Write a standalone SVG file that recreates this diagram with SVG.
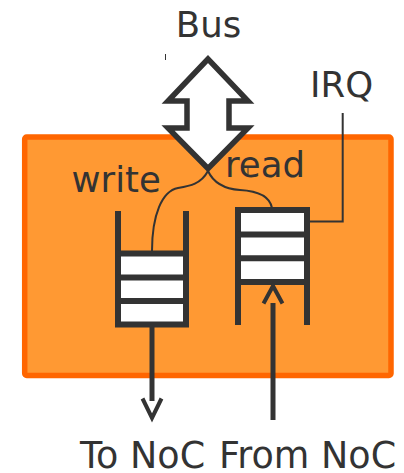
<svg xmlns="http://www.w3.org/2000/svg" width="404" height="473" viewBox="0 0 404 473">
  <style>
    .lbl { font-family: "DejaVu Sans", "Liberation Sans", sans-serif; font-size: 35.5px; fill: #333333; }
    .big { font-size: 36.5px; }
    .frame { fill: #ff9933; stroke: #ff6600; stroke-width: 5.5; }
    .rail { fill: none; stroke: #333333; stroke-width: 6; stroke-linecap: butt; }
    .cell { fill: #ffffff; }
    .wire { fill: none; stroke: #333333; stroke-width: 2; }
    .flow { fill: none; stroke: #333333; stroke-width: 5; }
    .head { fill: none; stroke: #333333; stroke-width: 4; stroke-linejoin: miter; }
  </style>

  <!-- controller block -->
  <g id="controller">
    <rect class="frame" x="24.7" y="137" width="366.3" height="238.5" rx="2"/>
  </g>

  <!-- write FIFO: open at the top -->
  <g id="write-fifo">
    <rect class="cell" x="121" y="256" width="62" height="66"/>
    <path class="rail" d="M118,211 V324.5 H186 V211"/>
    <path class="rail" d="M118,253.5 H186 M118,277.5 H186 M118,301 H186"/>
  </g>

  <!-- read FIFO: open at the bottom -->
  <g id="read-fifo">
    <rect class="cell" x="241" y="213" width="63" height="66"/>
    <path class="rail" d="M238,325 V210 H307 V325"/>
    <path class="rail" d="M238,234.5 H307 M238,258.3 H307 M238,282 H307"/>
  </g>

  <!-- bus port -->
  <g id="bus">
    <path d="M208,59 L168,101 H187 V128 H168 L208,168.5 L248,128 H229 V101 H248 Z" fill="#ffffff" stroke="#333333" stroke-width="5.5" stroke-linejoin="miter"/>
    <text class="lbl" x="208.5" y="36.7" text-anchor="middle">Bus</text>
    <line x1="165.5" y1="54" x2="165.5" y2="60" stroke="#333333" stroke-width="1"/>
  </g>

  <g id="labels">
    <text class="lbl" x="71.5" y="191.7">write</text>
    <text class="lbl" x="225" y="177">read</text>
    <text class="lbl" x="310" y="96.7">IRQ</text>
    <text class="lbl big" x="80" y="468">To NoC</text>
    <text class="lbl big" x="219" y="468">From NoC</text>
  </g>

  <!-- connectors -->
  <g id="connectors">
    <path class="wire" d="M208,171 C201,184 190,186 178,188 C162,191 152,215 152,251"/>
    <path class="wire" d="M208,171 C214,184 226,189 240,190 C258,191 270,197 272,208"/>
    <line x1="248" y1="168" x2="248" y2="174" stroke="#333333" stroke-width="1"/>
    <path class="wire" d="M342.7,113 V221.5 H310"/>
    <line class="flow" x1="152" y1="327" x2="152" y2="401"/>
    <path class="head" d="M142.5,398.5 L152,418 L161.5,398.5"/>
    <line class="flow" x1="273" y1="420" x2="273" y2="303"/>
    <path class="head" d="M263.5,303.5 L273,286 L282.5,303.5"/>
  </g>
</svg>
